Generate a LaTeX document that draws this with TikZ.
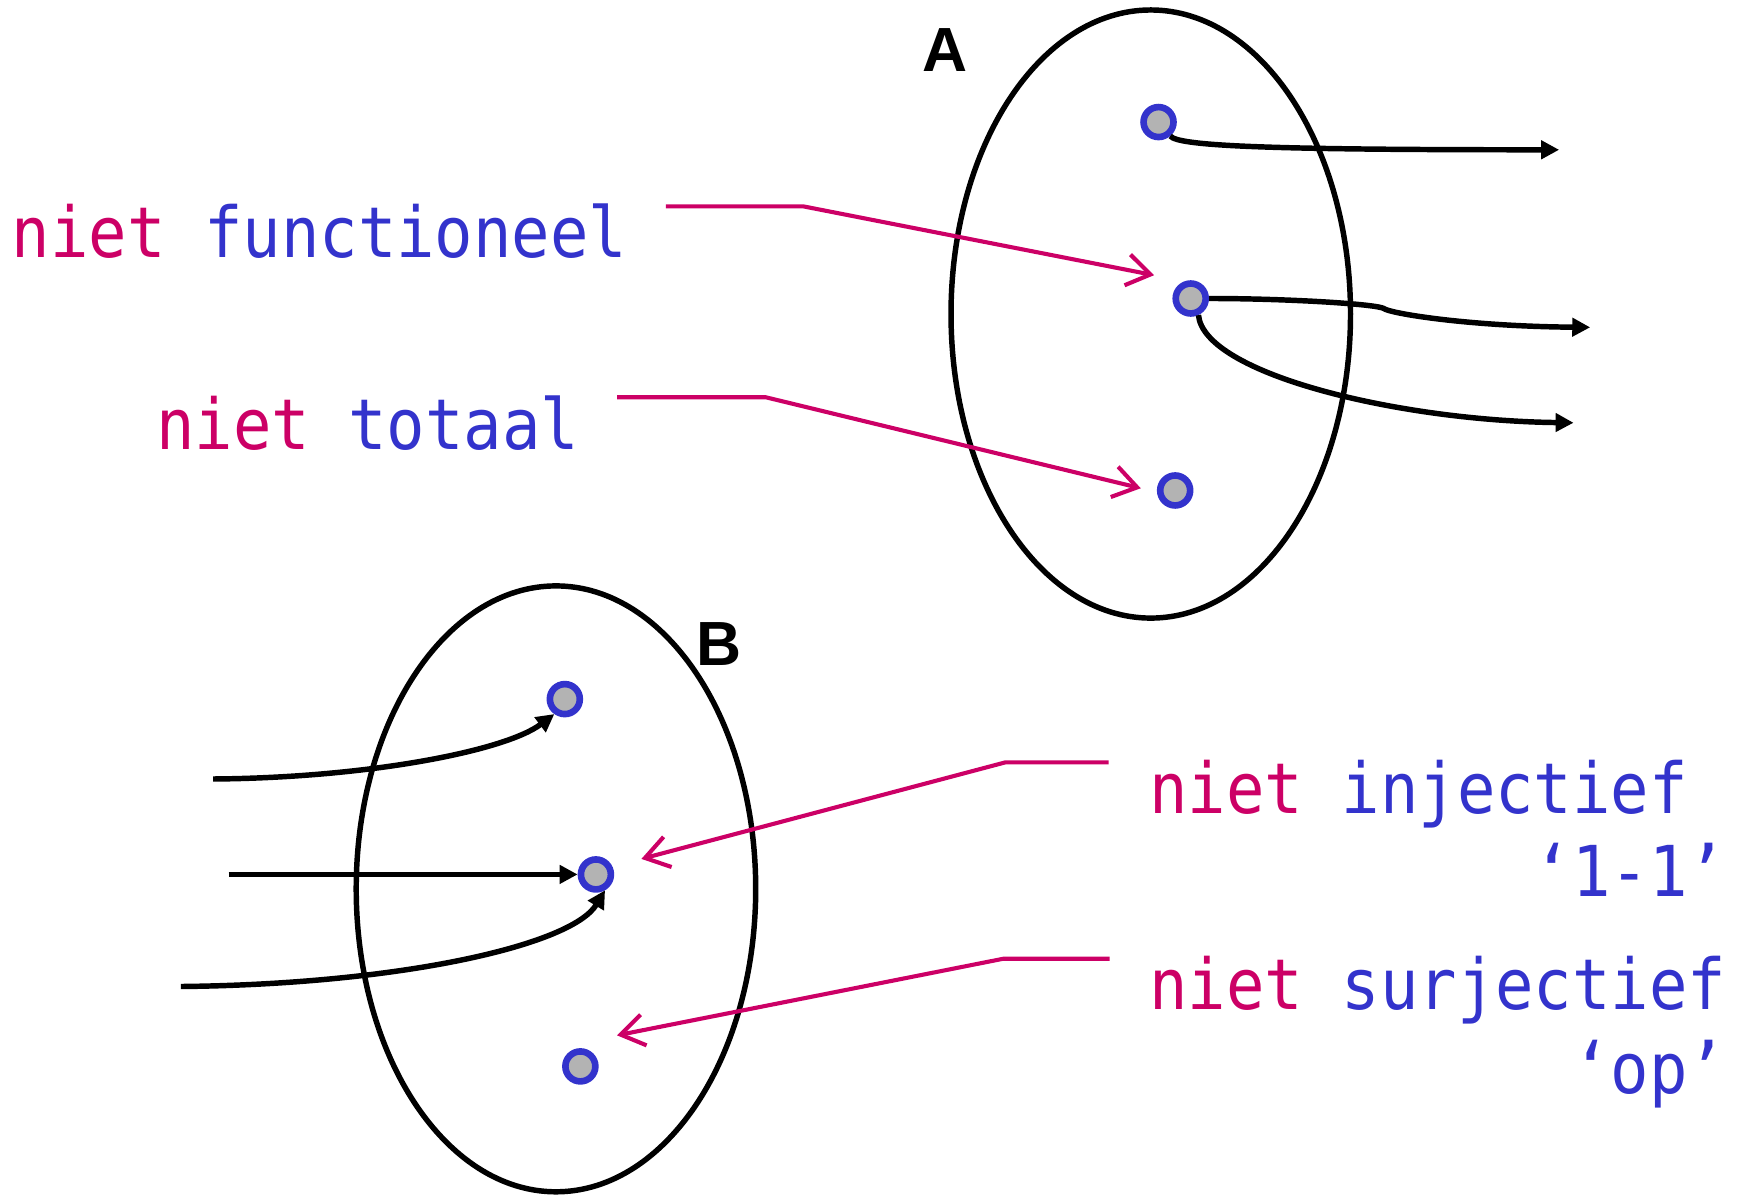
\documentclass[tikz,border=0pt]{standalone}
\usepackage{fontspec}
\newfontfamily\monofnt[FakeStretch=0.91]{DejaVu Sans Mono}
\newfontfamily\labfnt{Liberation Sans}
\usetikzlibrary{calc,arrows.meta,positioning}
\definecolor{rood}{HTML}{CC0066}
\definecolor{blauw}{HTML}{3333CC}
\definecolor{grijs}{HTML}{B3B3B3}

\begin{document}
\begin{tikzpicture}[dot/.style={circle, draw=blauw, fill=grijs, line width=1.7pt,
    minimum size=0.27cm, inner sep=0pt},
 map/.style={line width=1.4pt, -{Triangle[length=4.6pt,width=4.6pt]}},
 pointer/.style={rood, line width=1.05pt, -{Straight Barb[length=6pt,width=8pt]}},
 txt/.style={anchor=base west, inner sep=0pt, font=\monofnt\fontsize{18}{22}\selectfont},
 setlabel/.style={font=\labfnt\bfseries\fontsize{16}{19}\selectfont}]

 \useasboundingbox (0,0) rectangle (15.68,10.77);

% the two sets
 \draw [line width=1.4pt] (10.37,7.94) ellipse [x radius=1.80, y radius=2.74];
 \draw [line width=1.4pt] (5.01,2.76) ellipse [x radius=1.80, y radius=2.73];
 \node[setlabel] (lblA) at (8.52,10.32) {A};
 \node[setlabel] (lblB) at (6.48,4.97) {B};

% elements
 \node[dot] (a1) at (10.44,9.67) {};
 \node[dot] (a2) at (10.73,8.08) {};
 \node[dot] (a3) at (10.59,6.35) {};
 \node[dot] (b1) at (5.09,4.47) {};
 \node[dot] (b2) at (5.37,2.89) {};
 \node[dot] (b3) at (5.23,1.16) {};

% free ends of the mappings
 \coordinate (outA1) at (14.05,9.42);
 \coordinate (outA2) at (14.33,7.82);
 \coordinate (outA3) at (14.18,6.96);
 \coordinate (inB1) at (1.92,3.75);
 \coordinate (inB2) at (2.06,2.89);
 \coordinate (inB3) at (1.63,1.88);

 \draw[map] (a1.-50) .. controls (10.62,9.45) and (11.5,9.42) .. (outA1);
 \draw[map] (a2.east) .. controls (11.6,8.08) and (12.4,8.03) .. (12.47,7.99)
        .. controls (12.51,7.95) and (13.2,7.83) .. (outA2);
 \draw[map] (a2.-65) .. controls (10.85,7.40) and (12.6,6.98) .. (outA3);

 \draw[map] (inB1) .. controls (3.3,3.76) and (4.55,4.00) .. (b1.-125);
 \draw[map] (inB2) -- (b2.west);
 \draw[map] (inB3) .. controls (3.6,1.90) and (5.15,2.25) .. (b2.-60);

% texts
 \node[txt] (fun) at (0.10,8.45) {\textcolor{rood}{niet} \textcolor{blauw}{functioneel}};
 \node[txt] (tot) at (1.40,6.72) {\textcolor{rood}{niet} \textcolor{blauw}{totaal}};
 \node[txt] (inj) at (10.35,3.44) {\textcolor{rood}{niet} \textcolor{blauw}{injectief}};
 \node[txt, blauw] (inj2) at (10.35,2.69) {\phantom{niet injec}‘1-1’};
 \node[txt] (sur) at (10.35,1.67) {\textcolor{rood}{niet} \textcolor{blauw}{surjectief}};
 \node[txt, blauw] (sur2) at (10.35,0.92) {\phantom{niet inject}‘op’};

% pointers
 \coordinate (funS) at (6.00,8.91);  \coordinate (funK) at (7.24,8.91);
 \coordinate (totS) at (5.56,7.19);  \coordinate (totK) at (6.90,7.19);
 \coordinate (injS) at (9.99,3.90);  \coordinate (injK) at (9.06,3.90);
 \coordinate (surS) at (10.00,2.13); \coordinate (surK) at (9.04,2.13);
 \coordinate (funT) at ($(a2)+(-0.33,0.21)$);
 \coordinate (totT) at ($(a3)+(-0.31,0.02)$);
 \coordinate (injT) at ($(b2)+(0.41,0.14)$);
 \coordinate (surT) at ($(b3)+(0.33,0.28)$);

 \draw[pointer] (funS) -- (funK) -- (funT);
 \draw[pointer] (totS) -- (totK) -- (totT);
 \draw[pointer] (injS) -- (injK) -- (injT);
 \draw[pointer] (surS) -- (surK) -- (surT);

\end{tikzpicture}
\end{document}
